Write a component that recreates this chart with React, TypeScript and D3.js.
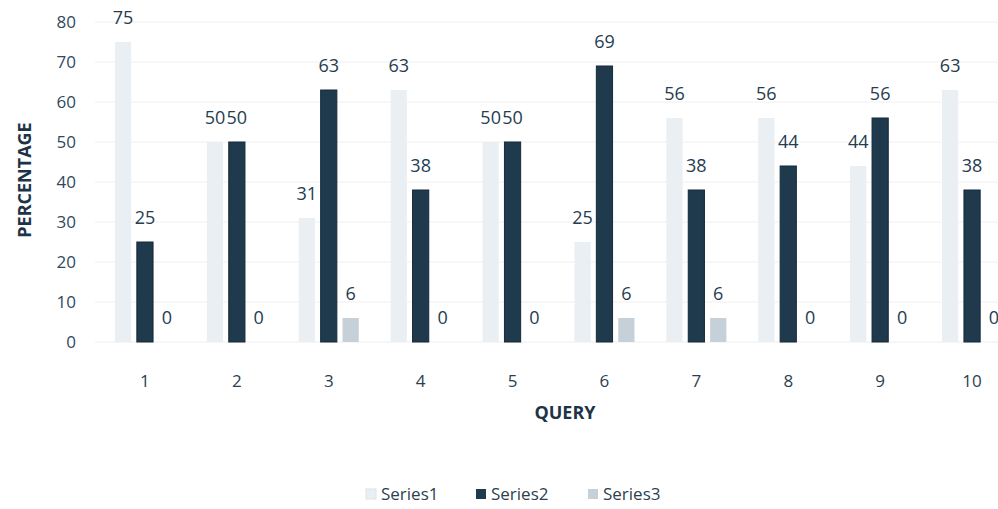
import React from "react";
import * as d3 from "d3";

const categories = ["1", "2", "3", "4", "5", "6", "7", "8", "9", "10"];
const seriesNames = ["Series1", "Series2", "Series3"];
const series1 = [75, 50, 31, 63, 50, 25, 56, 56, 44, 63];
const series2 = [25, 50, 63, 38, 50, 69, 38, 44, 56, 38];
const series3 = [0, 0, 6, 0, 0, 6, 6, 0, 0, 0];
const yTicks = [0, 10, 20, 30, 40, 50, 60, 70, 80];

const W = 998;
const H = 509;
const colors = ["#e9eff3", "#1f394d", "#c6d0d8"];
const FONT = "'Open Sans', 'Noto Sans', sans-serif";

export default function App() {
  const allSeries = [series1, series2, series3];
  const x = d3.scaleBand<string>().domain(categories).range([99, 1018]).padding(0);
  const inner = d3.scaleBand<string>().domain(seriesNames).range([-30, 30]).paddingInner(0.26);
  const y = d3.scaleLinear().domain([0, 80]).range([342, 22]);
  const cx = (c: string) => (x(c) ?? 0) + x.bandwidth() / 2;

  return (
    <svg width={W} height={H} style={{ position: "absolute", left: 0, top: 0, background: "#ffffff" }} fontFamily={FONT}>
      {yTicks.map((t) => (
        <g key={t}>
          {t > 0 && <line x1={95} x2={W} y1={y(t)} y2={y(t)} stroke="#f0f0f0" strokeWidth={1} />}
          <text x={76} y={y(t)} dy="0.35em" textAnchor="end" fontSize={17} fill="#2f4a60">{t}</text>
        </g>
      ))}
      <line x1={95} x2={W} y1={y(0)} y2={y(0)} stroke="#eeeeee" strokeWidth={1} />
      {allSeries.map((vals, si) => (
        <g key={si}>
          {vals.map((v, i) => {
            const c = categories[i];
            const bx = cx(c) + (inner(seriesNames[si]) ?? 0);
            const bw = inner.bandwidth();
            return (
              <g key={i}>
                <rect x={bx} y={y(v)} width={bw} height={y(0) - y(v)} fill={colors[si]}
                  stroke={si === 1 ? "#162a3a" : "none"} strokeWidth={si === 1 ? 1 : 0} />
                <text x={bx + bw / 2} y={y(v) - 18} textAnchor="middle" fontSize={18} fill="#263c50">{v}</text>
              </g>
            );
          })}
        </g>
      ))}
      {categories.map((c) => (
        <text key={c} x={cx(c)} y={387} textAnchor="middle" fontSize={17} fill="#2b3f52">{c}</text>
      ))}
      <text x={565} y={419} textAnchor="middle" fontSize={18} fontWeight="bold" fill="#1f3347">QUERY</text>
      <text transform={`translate(31,180) rotate(-90)`} textAnchor="middle" fontSize={18} fontWeight="bold" fill="#1f3347">PERCENTAGE</text>
      {seriesNames.map((s, i) => {
        const lx = [366, 476, 588][i];
        return (
          <g key={s}>
            <rect x={lx} y={489} width={10} height={10} fill={colors[i]} stroke={i === 0 ? "#dde4e8" : "none"} />
            <text x={lx + 15} y={500} fontSize={17} fill="#2b3f52">{s}</text>
          </g>
        );
      })}
    </svg>
  );
}
